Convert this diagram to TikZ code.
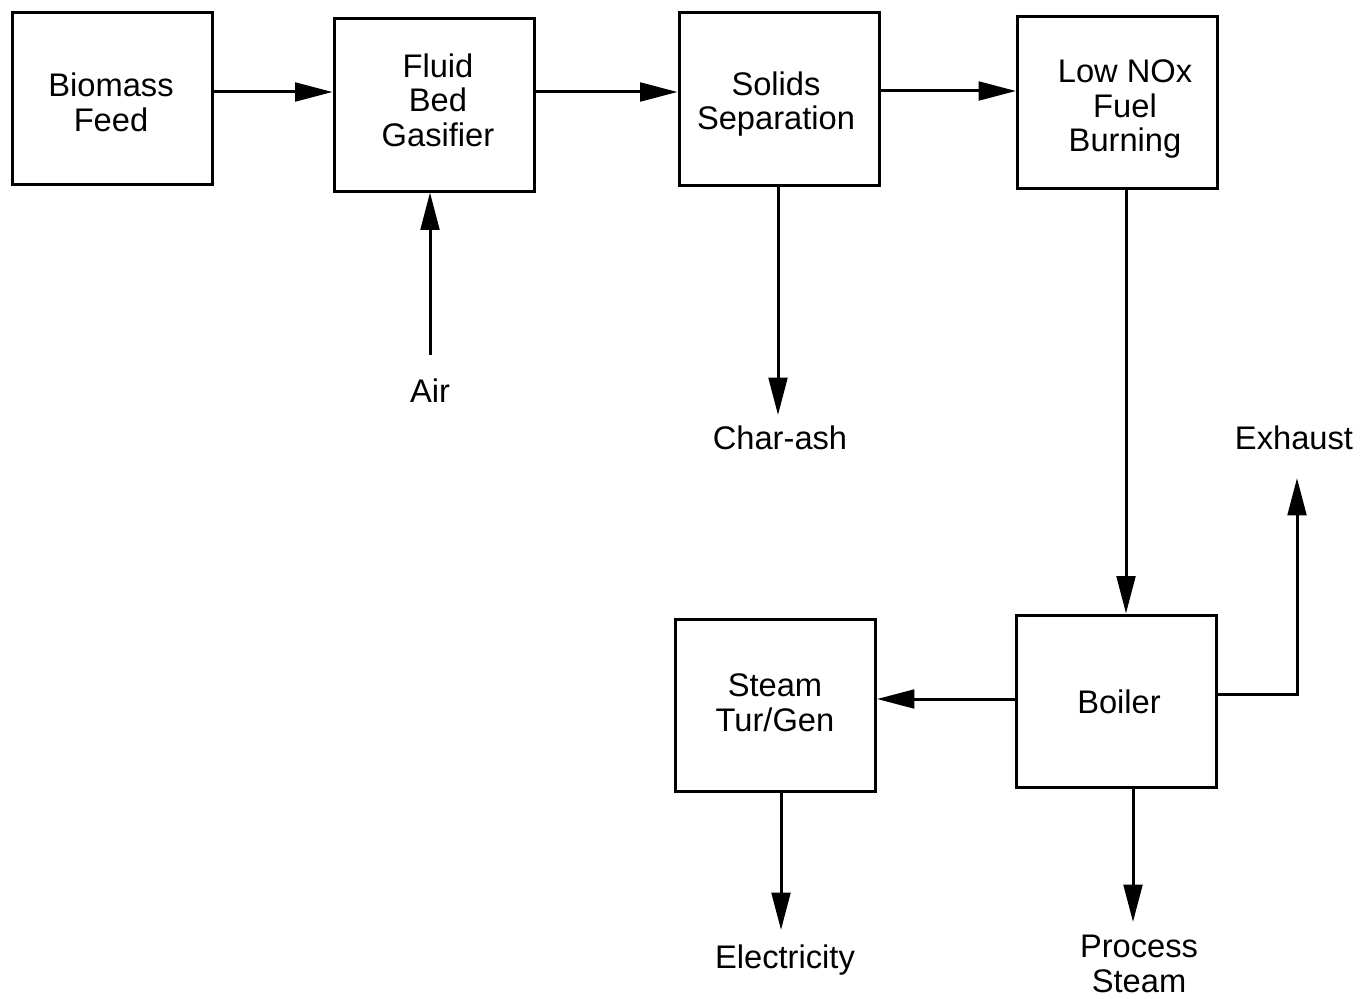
\documentclass[tikz,border=0pt]{standalone}
\usepackage{fontspec}
\setmainfont{Liberation Sans}
\usetikzlibrary{arrows.meta}
\begin{document}
\begin{tikzpicture}[x=0.75pt,y=-0.75pt,
  box/.style={draw,line width=2.25pt,minimum width=150pt,minimum height=129pt,inner sep=0pt},
  lbl/.style={align=center,font=\fontsize{24.5}{26}\selectfont,inner sep=0pt},
  arr/.style={line width=2.25pt,-{Triangle[length=28pt,width=14pt]}}]
\useasboundingbox (0,0) rectangle (1360,999);
\node[box] (bio) at (112.5,98.5) {};
\node[box] (gas) at (434,105) {};
\node[box] (sol) at (779,99) {};
\node[box] (nox) at (1117.5,102.5) {};
\node[box] (stm) at (775.5,705.5) {};
\node[box] (boi) at (1116.5,701) {};
\node[lbl] (biot) at (111,102) {Biomass\\Feed};
\node[lbl] (gast) at (438,100) {Fluid\\Bed\\Gasifier};
\node[lbl] (solt) at (776,104) {Solids\\Separation};
\node[lbl] (noxt) at (1125,109) {Low NOx\\Fuel\\Burning};
\node[lbl] (stmt) at (775,703) {Steam\\Tur/Gen};
\node[lbl] (boit) at (1119,702) {Boiler};
\node[lbl] (air) at (430,391) {Air};
\node[lbl] (char) at (780,438) {Char-ash};
\node[lbl] (exh) at (1294,438) {Exhaust};
\node[lbl] (ele) at (785,960) {Electricity};
\node[lbl] (pro) at (1139,964) {Process\\Steam};
\coordinate (airtail) at (430,355);
\coordinate (chartip) at (778,415);
\coordinate (exhtip) at (1297,478);
\coordinate (eletip) at (781,930);
\coordinate (protip) at (1133,922);
\draw[arr] (bio.east |- 0,92) -- (gas.west |- 0,92);
\draw[arr] (gas.east |- 0,92) -- (sol.west |- 0,92);
\draw[arr] (sol.east |- 0,91) -- (nox.west |- 0,91);
\draw[arr] (airtail) -- (airtail |- gas.south);
\draw[arr] (chartip |- sol.south) -- (chartip);
\draw[arr] (1126,0 |- nox.south) -- (1126,0 |- boi.north);
\draw[arr] (boi.west |- 0,699) -- (stm.east |- 0,699);
\draw[arr] (boi.east |- 0,694) -| (exhtip);
\draw[arr] (eletip |- stm.south) -- (eletip);
\draw[arr] (protip |- boi.south) -- (protip);
\end{tikzpicture}
\end{document}
